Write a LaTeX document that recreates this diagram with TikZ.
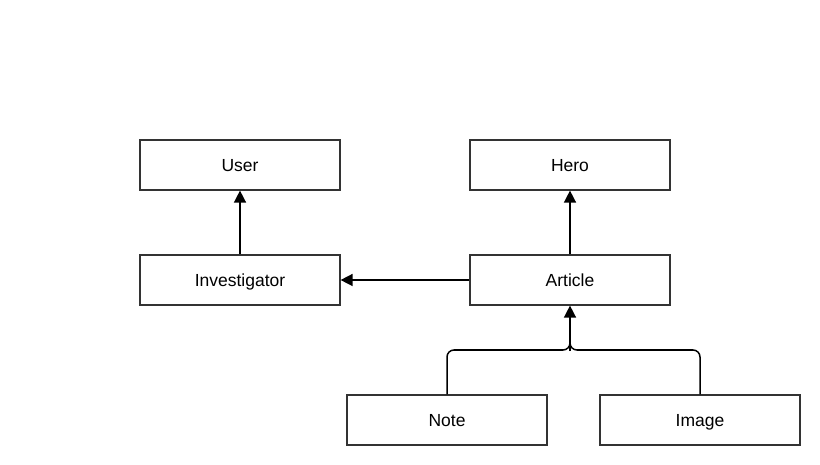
\documentclass[tikz,border=0pt]{standalone}
\usepackage{fontspec}
\setmainfont{Liberation Sans}
\usetikzlibrary{arrows.meta}
\begin{document}
\begin{tikzpicture}[x=1pt,y=-1pt,
  box/.style={draw=black!80,line width=1.2pt,fill=white,minimum width=200pt,minimum height=50pt,inner sep=0pt,text height=12.6pt,text depth=0pt,font=\fontsize{17.5}{20}\selectfont},
  conn/.style={draw=black,line width=1.5pt,-{Triangle[length=12pt,width=12pt]}},
  wire/.style={draw=black,line width=1.5pt,rounded corners=7pt}]
\useasboundingbox (0,0) rectangle (820,465);
\node[box] (user) at (240,165) {User};
\node[box] (hero) at (570,165) {Hero};
\node[box] (inv) at (240,280) {Investigator};
\node[box] (art) at (570,280) {Article};
\node[box] (note) at (447,420) {Note};
\node[box] (img) at (700,420) {Image};
\coordinate (j) at (570,350);
\draw[conn] (inv) -- (user);
\draw[conn] (art) -- (hero);
\draw[conn] (art) -- (inv);
\draw[wire] (note.north) |- (j) -- (570,343);
\draw[wire] (img.north) |- (j) -- (570,343);
\draw[conn] (570,351) -- (art.south);
\end{tikzpicture}
\end{document}
